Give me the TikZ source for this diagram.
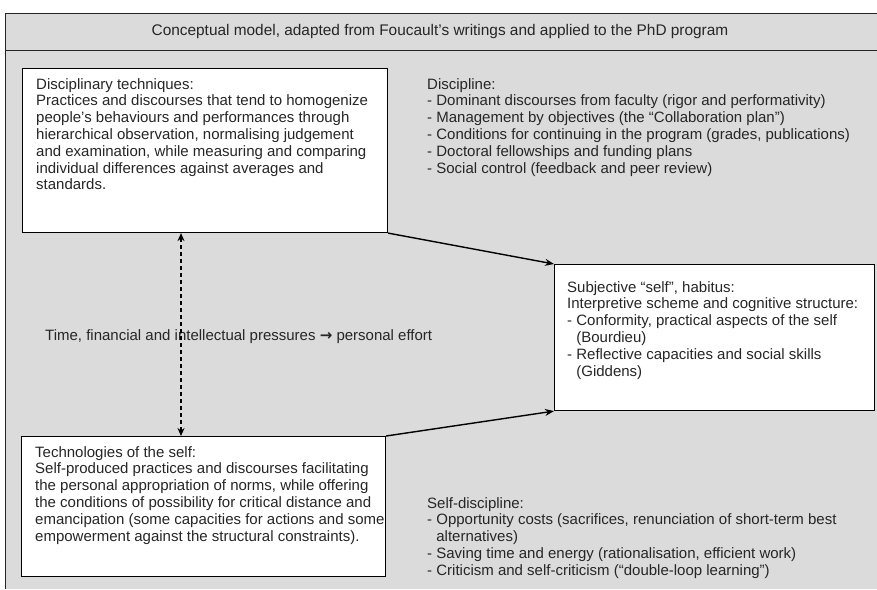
\documentclass[tikz,border=0pt]{standalone}
\usepackage{fontspec}
\setmainfont{Liberation Sans}
\newfontfamily\arrowfont{DejaVu Sans}
\usetikzlibrary{arrows.meta}
\begin{document}
\begin{tikzpicture}[x=1pt,y=-1pt,
  txt/.style={inner sep=0pt, align=left, anchor=north west, font=\fontsize{15}{16.8}\selectfont, text=black!85},
  boxx/.style={draw=black, line width=1.1pt, fill=white, inner sep=0pt, anchor=north west},
  conn/.style={draw=black, line width=1.4pt, -{Stealth[length=9pt,width=7pt]}},
  dconn/.style={draw=black, line width=1.2pt, dash pattern=on 4pt off 3pt, {Stealth[length=8pt,width=7pt]}-{Stealth[length=8pt,width=7pt]}},
]
\useasboundingbox (0,0) rectangle (877,589);
\fill[black!14] (5,13) rectangle (877,589);
\draw[line width=0.9pt, black!85] (877,13) -- (5,13) -- (5,589);
\draw[line width=0.9pt, black!85] (5,50) -- (877,50);
\node[font=\fontsize{15.4}{17}\selectfont, text=black!85] (title) at (440,32) {Conceptual model, adapted from Foucault’s writings and applied to the PhD program};

\node[boxx, minimum width=365pt, minimum height=164pt] (b1) at (22,68) {};
\node[boxx, minimum width=320pt, minimum height=146pt] (b2) at (554,264) {};
\node[boxx, minimum width=364pt, minimum height=140pt] (b3) at (21,436) {};

\node[txt] (t1) at (36,78) {Disciplinary techniques:\\
Practices and discourses that tend to homogenize\\
people’s behaviours and performances through\\
hierarchical observation, normalising judgement\\
and examination, while measuring and comparing\\
individual differences against averages and\\
standards.};

\node[txt] (t2) at (567,281) {Subjective “self”, habitus:\\
Interpretive scheme and cognitive structure:\\
- Conformity, practical aspects of the self\\
\hphantom{- }(Bourdieu)\\
- Reflective capacities and social skills\\
\hphantom{- }(Giddens)};

\node[txt] (t3) at (35,446) {Technologies of the self:\\
Self-produced practices and discourses facilitating\\
the personal appropriation of norms, while offering\\
the conditions of possibility for critical distance and\\
emancipation (some capacities for actions and some\\
empowerment against the structural constraints).};

\node[txt] (disc) at (427,78) {Discipline:\\
- Dominant discourses from faculty (rigor and performativity)\\
- Management by objectives (the “Collaboration plan”)\\
- Conditions for continuing in the program (grades, publications)\\
- Doctoral fellowships and funding plans\\
- Social control (feedback and peer review)};

\node[txt] (sdisc) at (427,497) {Self-discipline:\\
- Opportunity costs (sacrifices, renunciation of short-term best\\
\hphantom{- }alternatives)\\
- Saving time and energy (rationalisation, efficient work)\\
- Criticism and self-criticism (“double-loop learning”)};

\node[txt, anchor=west] (lab) at (45,337) {Time, financial and intellectual pressures {\arrowfont\bfseries →} personal effort};

\coordinate (dx) at (181,330);
\draw[dconn] (dx |- b1.south) -- (dx |- b3.north);
\draw[conn] (b1.south east) -- (b2.north west);
\draw[conn] (b3.north east) -- (b2.south west);
\end{tikzpicture}
\end{document}
